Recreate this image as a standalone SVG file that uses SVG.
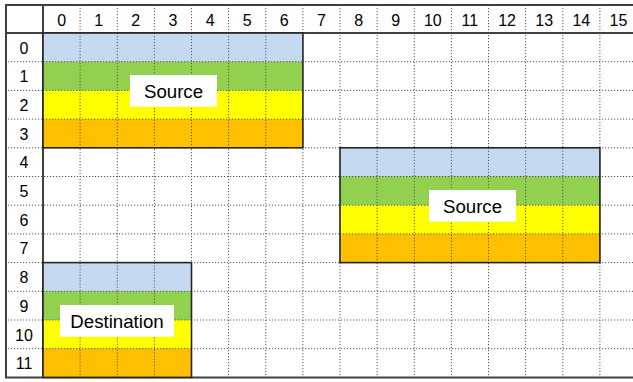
<svg xmlns="http://www.w3.org/2000/svg" width="633" height="382" viewBox="0 0 633 382">
<style>
.grid{stroke:#595959;stroke-width:1;stroke-dasharray:1.2,1.8;fill:none}
.hdr{font-family:"Liberation Sans",Arial,sans-serif;font-size:16px;fill:#000;text-anchor:middle}
.lbl{font-family:"Liberation Sans",Arial,sans-serif;font-size:18.67px;fill:#000;text-anchor:middle}
.b0{fill:#c5d9f1}.b1{fill:#92d050}.b2{fill:#ffff00}.b3{fill:#ffc000}
.edge{fill:none;stroke:#262626;stroke-width:1.6}
.lblbox{fill:#ffffff}
.thick{stroke:#404040;stroke-width:2;fill:none}
</style>
<rect width="633" height="382" fill="#ffffff"/>
<g id="grid">
<g class="grid">
<path d="M80.1 5V377M117.3 5V377M154.4 5V377M191.5 5V377M228.6 5V377M265.8 5V377M302.9 5V377M340 5V377M377.1 5V377M414.3 5V377M451.4 5V377M488.5 5V377M525.6 5V377M562.8 5V377M599.9 5V377"/>
<path d="M5 61.7H633M5 90.4H633M5 119.1H633M5 147.8H633M5 176.5H633M5 205.2H633M5 233.9H633M5 262.6H633M5 291.3H633M5 320H633M5 348.7H633"/>
</g>
<g class="thick">
<path d="M5 5H633"/>
<path d="M6 5V377.4"/>
<path d="M43 5V377.4"/>
<path d="M5 33H633"/>
<path d="M5 377.4H633"/>
</g>
</g>
<g id="col-headers">
<text class="hdr" x="61.6" y="26">0</text>
<text class="hdr" x="98.7" y="26">1</text>
<text class="hdr" x="135.8" y="26">2</text>
<text class="hdr" x="172.9" y="26">3</text>
<text class="hdr" x="210.1" y="26">4</text>
<text class="hdr" x="247.2" y="26">5</text>
<text class="hdr" x="284.3" y="26">6</text>
<text class="hdr" x="321.4" y="26">7</text>
<text class="hdr" x="358.6" y="26">8</text>
<text class="hdr" x="395.7" y="26">9</text>
<text class="hdr" x="432.8" y="26">10</text>
<text class="hdr" x="469.9" y="26">11</text>
<text class="hdr" x="507.1" y="26">12</text>
<text class="hdr" x="544.2" y="26">13</text>
<text class="hdr" x="581.3" y="26">14</text>
<text class="hdr" x="618.4" y="26">15</text>
</g>
<g id="row-headers">
<text class="hdr" x="24" y="53.5">0</text>
<text class="hdr" x="24" y="82.2">1</text>
<text class="hdr" x="24" y="110.9">2</text>
<text class="hdr" x="24" y="139.6">3</text>
<text class="hdr" x="24" y="168.3">4</text>
<text class="hdr" x="24" y="197">5</text>
<text class="hdr" x="24" y="225.7">6</text>
<text class="hdr" x="24" y="254.4">7</text>
<text class="hdr" x="24" y="283.1">8</text>
<text class="hdr" x="24" y="311.8">9</text>
<text class="hdr" x="24" y="340.5">10</text>
<text class="hdr" x="24" y="369.2">11</text>
</g>
<g id="source1">
<rect class="b0" x="43" y="33" width="259.9" height="28.7"/>
<rect class="b1" x="43" y="61.7" width="259.9" height="28.7"/>
<rect class="b2" x="43" y="90.4" width="259.9" height="28.7"/>
<rect class="b3" x="43" y="119.1" width="259.9" height="28.7"/>
<g class="grid"><path d="M80.1 33V147.8M117.3 33V147.8M154.4 33V147.8M191.5 33V147.8M228.6 33V147.8M265.8 33V147.8M43 61.7H302.9M43 90.4H302.9M43 119.1H302.9"/></g>
<rect class="edge" x="43" y="33" width="259.9" height="114.8"/>
<rect class="lblbox" x="130" y="75" width="87" height="31.7"/>
<text class="lbl" x="173.5" y="97.5">Source</text>
</g>
<g id="source2">
<rect class="b0" x="340" y="147.8" width="259.9" height="28.7"/>
<rect class="b1" x="340" y="176.5" width="259.9" height="28.7"/>
<rect class="b2" x="340" y="205.2" width="259.9" height="28.7"/>
<rect class="b3" x="340" y="233.9" width="259.9" height="28.7"/>
<g class="grid"><path d="M377.1 147.8V262.6M414.3 147.8V262.6M451.4 147.8V262.6M488.5 147.8V262.6M525.6 147.8V262.6M562.8 147.8V262.6M340 176.5H599.9M340 205.2H599.9M340 233.9H599.9"/></g>
<rect class="edge" x="340" y="147.8" width="259.9" height="114.8"/>
<rect class="lblbox" x="429" y="190" width="87" height="31.7"/>
<text class="lbl" x="472.5" y="212.5">Source</text>
</g>
<g id="destination">
<rect class="b0" x="43" y="262.6" width="148.5" height="28.7"/>
<rect class="b1" x="43" y="291.3" width="148.5" height="28.7"/>
<rect class="b2" x="43" y="320" width="148.5" height="28.7"/>
<rect class="b3" x="43" y="348.7" width="148.5" height="28.7"/>
<g class="grid"><path d="M80.1 262.6V377.4M117.3 262.6V377.4M154.4 262.6V377.4M43 291.3H191.5M43 320H191.5M43 348.7H191.5"/></g>
<rect class="edge" x="43" y="262.6" width="148.5" height="114.8"/>
<rect class="lblbox" x="60" y="305" width="114" height="31.7"/>
<text class="lbl" x="117" y="327.5">Destination</text>
</g>
</svg>
